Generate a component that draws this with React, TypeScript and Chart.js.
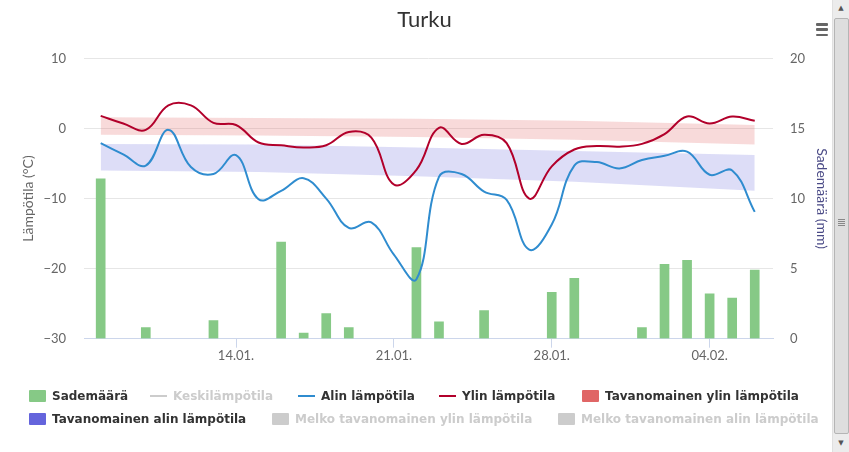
import React, { useEffect, useRef } from "react";
import { Chart, registerables } from "chart.js";

Chart.register(...registerables);

// ---------- DATA ----------
const dates = [
  "08.01.", "09.01.", "10.01.", "11.01.", "12.01.", "13.01.", "14.01.", "15.01.", "16.01.", "17.01.",
  "18.01.", "19.01.", "20.01.", "21.01.", "22.01.", "23.01.", "24.01.", "25.01.", "26.01.", "27.01.",
  "28.01.", "29.01.", "30.01.", "31.01.", "01.02.", "02.02.", "03.02.", "04.02.", "05.02.", "06.02.",
];

// Sademäärä (mm)
const rainfall = [
  11.4, 0, 0.8, 0, 0, 1.3, 0, 0, 6.9, 0.4,
  1.8, 0.8, 0, 0, 6.5, 1.2, 0, 2.0, 0, 0,
  3.3, 4.3, 0, 0, 0.8, 5.3, 5.6, 3.2, 2.9, 4.9,
];

// Ylin lämpötila (°C)
const maxTemp = [
  1.8, 0.7, -0.2, 3.3, 3.3, 0.8, 0.5, -2.0, -2.4, -2.7,
  -2.4, -0.5, -1.3, -8.0, -5.9, 0.1, -2.2, -0.9, -2.1, -10.0,
  -5.4, -3.0, -2.5, -2.6, -2.2, -0.8, 1.7, 0.7, 1.7, 1.1,
];

// Alin lämpötila (°C)
const minTemp = [
  -2.1, -3.7, -5.3, -0.2, -5.5, -6.5, -3.8, -10.1, -8.9, -7.1,
  -10.0, -14.2, -13.4, -18.0, -21.5, -6.9, -6.5, -9.0, -10.2, -17.3,
  -13.7, -5.3, -4.8, -5.7, -4.5, -3.9, -3.3, -6.6, -6.0, -11.9,
];

// Tavanomaiset vaihteluvälit (read at a few days)
const bandDays = [0, 7, 14, 21, 29];
const normalMaxHigh = [1.6, 1.5, 1.4, 1.1, 0.5];
const normalMaxLow = [-0.9, -1.0, -1.2, -1.6, -2.3];
const normalMinHigh = [-2.2, -2.3, -2.7, -3.2, -3.8];
const normalMinLow = [-6.0, -6.2, -6.8, -7.6, -8.9];

// Axis ticks
const dateTickDays = [6, 13, 20, 27];
const tempTicks = [-30, -20, -10, 0, 10];
const rainTicks = [0, 5, 10, 15, 20];

// ---------- STYLE / LAYOUT ----------
const W = 849;
const H = 452;
const PLOT_LEFT = 84;
const PLOT_RIGHT = 773;
const PLOT_BOTTOM = 338.7;
const FONT = "Lato, 'DejaVu Sans', sans-serif";
const LEGEND_FONT = "'DejaVu Sans', sans-serif";

const C_RAIN = "#86c986";
const C_MIN = "#2f8ccf";
const C_MAX = "#b2002b";
const C_NMAX = "#e06666";
const C_NMIN = "#6464dc";
const C_HIDDEN = "#cccccc";

const legendItems = [
  { label: "Sademäärä", kind: "square", color: C_RAIN, hidden: false, row: 0, x: 29 },
  { label: "Keskilämpötila", kind: "line", color: C_HIDDEN, hidden: true, row: 0, x: 150 },
  { label: "Alin lämpötila", kind: "line", color: C_MIN, hidden: false, row: 0, x: 298 },
  { label: "Ylin lämpötila", kind: "line", color: C_MAX, hidden: false, row: 0, x: 439 },
  { label: "Tavanomainen ylin lämpötila", kind: "square", color: C_NMAX, hidden: false, row: 0, x: 582 },
  { label: "Tavanomainen alin lämpötila", kind: "square", color: C_NMIN, hidden: false, row: 1, x: 29 },
  { label: "Melko tavanomainen ylin lämpötila", kind: "square", color: C_HIDDEN, hidden: true, row: 1, x: 272 },
  { label: "Melko tavanomainen alin lämpötila", kind: "square", color: C_HIDDEN, hidden: true, row: 1, x: 558 },
];
const LEGEND_ROW_Y = [396.2, 418.7];

const minus = (v: number | string) => String(v).replace("-", "\u2212");

export default function App() {
  const ref = useRef<HTMLCanvasElement>(null);

  useEffect(() => {
    const canvas = ref.current;
    if (!canvas) return;

    const pts = (arr: number[]) => arr.map((y, i) => ({ x: i, y }));
    const bandPts = (arr: number[]) => arr.map((y, i) => ({ x: bandDays[i], y }));

    const chart = new Chart(canvas, {
      type: "bar",
      data: {
        datasets: [
          {
            type: "line",
            label: "Ylin lämpötila",
            data: pts(maxTemp),
            borderColor: C_MAX,
            borderWidth: 2,
            pointRadius: 0,
            tension: 0.4,
            fill: false,
            yAxisID: "y",
            order: 0,
          } as any,
          {
            type: "line",
            label: "Alin lämpötila",
            data: pts(minTemp),
            borderColor: C_MIN,
            borderWidth: 2,
            pointRadius: 0,
            tension: 0.4,
            fill: false,
            yAxisID: "y",
            order: 1,
          } as any,
          {
            type: "line",
            label: "Tavanomainen ylin (yläraja)",
            data: bandPts(normalMaxHigh),
            borderWidth: 0,
            borderColor: "rgba(0,0,0,0)",
            pointRadius: 0,
            tension: 0,
            fill: false,
            yAxisID: "y",
            order: 2,
          } as any,
          {
            type: "line",
            label: "Tavanomainen ylin lämpötila",
            data: bandPts(normalMaxLow),
            borderWidth: 0,
            borderColor: "rgba(0,0,0,0)",
            backgroundColor: "rgba(224,102,102,0.24)",
            pointRadius: 0,
            tension: 0,
            fill: "-1",
            yAxisID: "y",
            order: 2,
          } as any,
          {
            type: "line",
            label: "Tavanomainen alin (yläraja)",
            data: bandPts(normalMinHigh),
            borderWidth: 0,
            borderColor: "rgba(0,0,0,0)",
            pointRadius: 0,
            tension: 0,
            fill: false,
            yAxisID: "y",
            order: 2,
          } as any,
          {
            type: "line",
            label: "Tavanomainen alin lämpötila",
            data: bandPts(normalMinLow),
            borderWidth: 0,
            borderColor: "rgba(0,0,0,0)",
            backgroundColor: "rgba(100,100,220,0.22)",
            pointRadius: 0,
            tension: 0,
            fill: "-1",
            yAxisID: "y",
            order: 2,
          } as any,
          {
            type: "bar",
            label: "Sademäärä",
            data: rainfall.map((y, i) => ({ x: i, y: y > 0 ? y : null })),
            backgroundColor: C_RAIN,
            borderWidth: 0,
            barThickness: 9,
            yAxisID: "y1",
            order: 3,
          } as any,
        ],
      },
      options: {
        responsive: false,
        animation: false,
        devicePixelRatio: 1,
        layout: { padding: 0 },
        plugins: {
          legend: { display: false },
          tooltip: { enabled: false },
          title: {
            display: true,
            text: "Turku",
            color: "#333333",
            font: { family: FONT, size: 22, weight: "normal", lineHeight: 1.2 },
            padding: { top: 7, bottom: 25 },
          },
        },
        scales: {
          x: {
            type: "linear",
            min: -0.74,
            max: 29.81,
            offset: false,
            grid: {
              display: true,
              drawOnChartArea: false,
              drawTicks: true,
              tickLength: 9,
              color: "#ccd6eb",
              offset: false,
            },
            border: { display: true, color: "#ccd6eb" },
            ticks: {
              autoSkip: false,
              maxRotation: 0,
              padding: 0,
              color: "#666666",
              font: { family: FONT, size: 13 },
              callback: (v: any) => dates[Number(v)] ?? "",
            },
            afterBuildTicks: (s: any) => {
              s.ticks = dateTickDays.map((v) => ({ value: v }));
            },
            afterFit: (s: any) => {
              s.height = H - PLOT_BOTTOM;
            },
          } as any,
          y: {
            type: "linear",
            position: "left",
            min: tempTicks[0],
            max: tempTicks[tempTicks.length - 1],
            grid: { color: "#e6e6e6", drawTicks: false },
            border: { display: false },
            ticks: {
              stepSize: 10,
              padding: 18,
              color: "#666666",
              font: { family: FONT, size: 13 },
              callback: (v: any) => minus(v),
            },
            afterBuildTicks: (s: any) => {
              s.ticks = tempTicks.map((v) => ({ value: v }));
            },
            title: {
              display: true,
              text: "Lämpötila (°C)",
              color: "#666666",
              font: { family: FONT, size: 14 },
              padding: { top: 20, bottom: 0 },
            },
            afterFit: (s: any) => {
              s.width = PLOT_LEFT;
            },
          } as any,
          y1: {
            type: "linear",
            position: "right",
            min: rainTicks[0],
            max: rainTicks[rainTicks.length - 1],
            grid: { drawOnChartArea: false, drawTicks: false },
            border: { display: false },
            ticks: {
              stepSize: 5,
              padding: 17,
              color: "#666666",
              font: { family: FONT, size: 13 },
            },
            afterBuildTicks: (s: any) => {
              s.ticks = rainTicks.map((v) => ({ value: v }));
            },
            title: {
              display: true,
              text: "Sademäärä (mm)",
              color: "#4a4a86",
              font: { family: FONT, size: 14 },
              padding: { top: 19, bottom: 0 },
            },
            afterFit: (s: any) => {
              s.width = W - PLOT_RIGHT;
            },
          } as any,
        },
      } as any,
    });

    return () => chart.destroy();
  }, []);

  return (
    <div
      style={{
        position: "fixed",
        left: 0,
        top: 0,
        width: W,
        height: H,
        background: "#ffffff",
        overflow: "hidden",
      }}
    >
      <canvas
        ref={ref}
        width={W}
        height={H}
        style={{ position: "absolute", left: 0, top: 0, width: W, height: H }}
      />

      {/* legend */}
      {legendItems.map((it) => (
        <div
          key={it.label}
          style={{
            position: "absolute",
            left: it.x,
            top: LEGEND_ROW_Y[it.row] - 10,
            height: 20,
            display: "flex",
            alignItems: "center",
            whiteSpace: "nowrap",
            fontFamily: LEGEND_FONT,
            fontWeight: 700,
            fontSize: 12,
            color: it.hidden ? "#cccccc" : "#333333",
          }}
        >
          {it.kind === "square" ? (
            <span
              style={{
                display: "inline-block",
                width: 17,
                height: 12,
                background: it.color,
                borderRadius: 1,
              }}
            />
          ) : (
            <span
              style={{
                display: "inline-block",
                width: 17,
                height: 2,
                background: it.color,
              }}
            />
          )}
          <span style={{ marginLeft: 6 }}>{it.label}</span>
        </div>
      ))}

      {/* export menu icon */}
      <div style={{ position: "absolute", left: 816, top: 23, width: 12 }}>
        {[0, 1, 2].map((i) => (
          <div
            key={i}
            style={{
              position: "absolute",
              left: 0,
              top: i * 5.3,
              width: 12,
              height: 2.6,
              background: "#666666",
              borderRadius: 1,
            }}
          />
        ))}
      </div>

      {/* page scrollbar */}
      <div
        style={{
          position: "absolute",
          left: 832,
          top: 0,
          width: 17,
          height: H,
          background: "#ececec",
          borderLeft: "1px solid #e0e0e0",
          boxSizing: "border-box",
        }}
      >
        <div
          style={{
            position: "absolute",
            left: 0,
            top: 0,
            width: 16,
            height: 17,
            fontSize: 7,
            color: "#555",
            textAlign: "center",
            lineHeight: "17px",
            fontFamily: "DejaVu Sans, sans-serif",
          }}
        >
          ▲
        </div>
        <div
          style={{
            position: "absolute",
            left: 1,
            top: 18,
            width: 13,
            height: 414,
            background: "#dedede",
            border: "1px solid #b5b5b5",
            borderRadius: 2,
          }}
        >
          <div style={{ position: "absolute", left: 3, top: 200, width: 7 }}>
            {[0, 1, 2, 3].map((i) => (
              <div
                key={i}
                style={{
                  position: "absolute",
                  left: 0,
                  top: i * 2,
                  width: 7,
                  height: 1,
                  background: "#888",
                }}
              />
            ))}
          </div>
        </div>
        <div
          style={{
            position: "absolute",
            left: 0,
            top: 435,
            width: 16,
            height: 17,
            fontSize: 7,
            color: "#555",
            textAlign: "center",
            lineHeight: "17px",
            fontFamily: "DejaVu Sans, sans-serif",
          }}
        >
          ▼
        </div>
      </div>
    </div>
  );
}
